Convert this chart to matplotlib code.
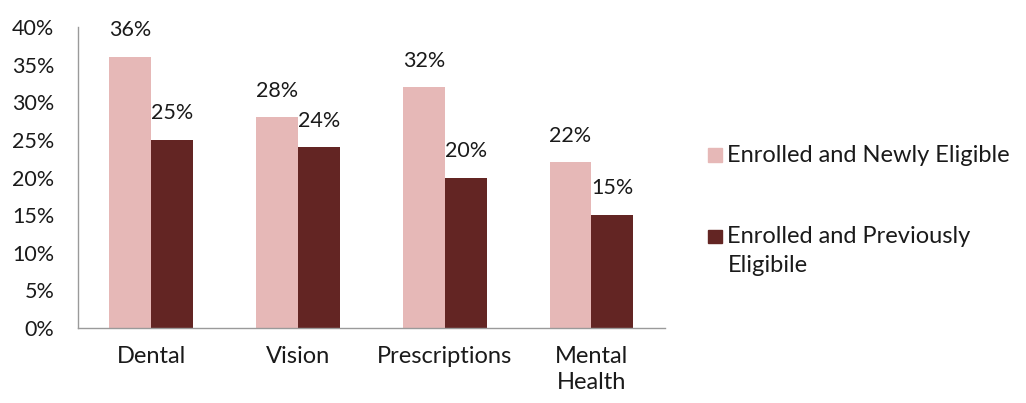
import matplotlib

matplotlib.use("Agg")

import matplotlib.pyplot as plt
import numpy as np
from matplotlib.patches import Rectangle

plt.rcParams["font.family"] = ["Lato", "DejaVu Sans"]

categories = ["Dental", "Vision", "Prescriptions", "Mental\nHealth"]
newly_eligible = [36, 28, 32, 22]
previously_eligible = [25, 24, 20, 15]
series_names = ["Enrolled and Newly Eligible", "Enrolled and Previously\nEligibile"]
colors = ["#E6B8B7", "#632523"]
yticks = [0, 5, 10, 15, 20, 25, 30, 35, 40]

FS_NUM = 15.5   # percentages
FS_TXT = 17     # words
INK = "#1a1a1a"

fig = plt.figure(figsize=(10.26, 4.03), dpi=100)
ax = fig.add_axes([0.076, 0.186, 0.572, 0.747])

x = np.arange(len(categories))
w = 0.286
for off, vals, c in [(-w / 2, newly_eligible, colors[0]),
                     (w / 2, previously_eligible, colors[1])]:
    bars = ax.bar(x + off, vals, width=w, color=c, edgecolor="none")
    for b, v in zip(bars, vals):
        ax.annotate(f"{v}%", (b.get_x() + b.get_width() / 2, v),
                    xytext=(0, 12), textcoords="offset points",
                    ha="center", va="bottom", fontsize=FS_NUM, color=INK)

ax.set_xlim(-0.5, len(categories) - 0.5)
ax.set_ylim(0, 40)
ax.set_yticks(yticks)
ax.set_yticklabels([f"{t}%" for t in yticks])
ax.set_xticks(x)
ax.set_xticklabels(categories, linespacing=1.3)
ax.tick_params(axis="y", length=0, pad=17, labelsize=FS_NUM, labelcolor=INK)
ax.tick_params(axis="x", length=0, pad=13, labelsize=FS_TXT, labelcolor=INK)
for s in ["top", "right"]:
    ax.spines[s].set_visible(False)
for s in ["left", "bottom"]:
    ax.spines[s].set_color("#9a9a9a")
    ax.spines[s].set_linewidth(1.0)

# legend drawn by hand so the swatch sits on the first line of each label
entries = [0.615, 0.412]
for yf, name, c in zip(entries, series_names, colors):
    fig.patches.append(Rectangle((0.690, yf - 0.016), 0.0135, 0.034,
                                 transform=fig.transFigure, color=c))
    for i, line in enumerate(name.split("\n")):
        fig.text(0.709, yf - 0.072 * i, line, fontsize=FS_TXT, va="center",
                 ha="left", color=INK)

fig.savefig("out.png", dpi=100)
